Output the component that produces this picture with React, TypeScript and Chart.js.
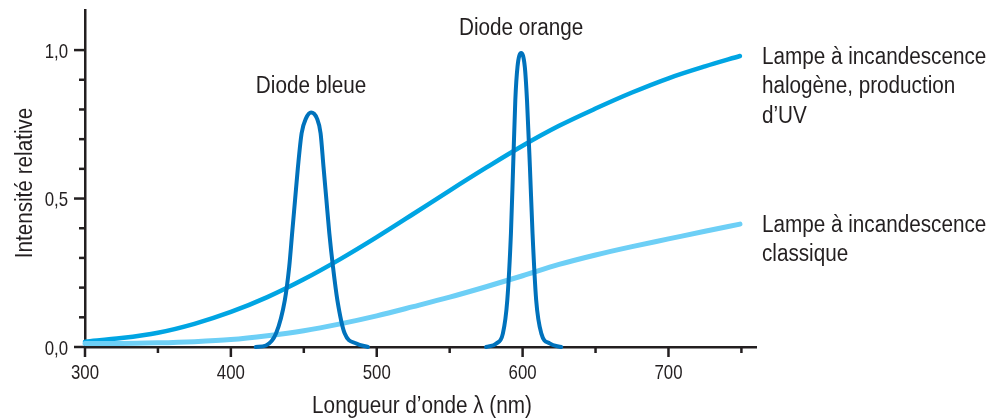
import React, { useEffect, useRef } from "react";
import { Chart, registerables } from "chart.js";

Chart.register(...registerables);

const FONT = "'Liberation Sans', Arial, sans-serif";
const TEXT = "#231f20";
const C_HALOGEN = "#00a5e3";
const C_CLASSIC = "#6dcff6";
const C_DIODE = "#0072bc";

// Data (wavelength in nm, relative intensity)
const halogenX = [300, 325, 350, 375, 400, 425, 450, 475, 500, 525, 550, 575, 600, 625, 650, 675, 700, 725, 749];
const halogenY = [0.018, 0.03, 0.048, 0.078, 0.118, 0.168, 0.228, 0.296, 0.37, 0.448, 0.527, 0.604, 0.678, 0.745, 0.803, 0.857, 0.905, 0.945, 0.98];

const classicX = [300, 325, 350, 375, 400, 425, 450, 475, 500, 525, 550, 575, 600, 625, 650, 675, 700, 725, 749];
const classicY = [0.012, 0.012, 0.014, 0.018, 0.025, 0.038, 0.055, 0.078, 0.105, 0.136, 0.168, 0.203, 0.24, 0.278, 0.31, 0.338, 0.364, 0.39, 0.414];

const blueX = [417, 424, 431, 437, 440, 442, 444, 446, 448.5, 451.5, 455, 459, 461.5, 463.5, 465.5, 467.5, 470, 473, 478, 486, 494];
const blueY = [0, 0.005, 0.046, 0.158, 0.27, 0.383, 0.495, 0.607, 0.72, 0.77, 0.79, 0.77, 0.72, 0.607, 0.495, 0.383, 0.27, 0.158, 0.046, 0.012, 0];

const orangeX = [575, 582, 586.5, 589.5, 592, 593.5, 595, 596.5, 599, 601.5, 603, 605, 606.8, 609.3, 612.8, 618.5, 626.5];
const orangeY = [0, 0.012, 0.046, 0.158, 0.383, 0.607, 0.832, 0.944, 0.99, 0.944, 0.832, 0.607, 0.383, 0.158, 0.046, 0.012, 0];

const xTickValues = [300, 350, 400, 450, 500, 550, 600, 650, 700, 750];
const xTickLabels = ["300", "", "400", "", "500", "", "600", "", "700", ""];
const yTickValues = [0, 0.1, 0.2, 0.3, 0.4, 0.5, 0.6, 0.7, 0.8, 0.9, 1.0];
const yTickLabels = ["0,0", "", "", "", "", "0,5", "", "", "", "", "1,0"];

const xTitle = "Longueur d’onde λ (nm)";
const yTitle = "Intensité relative";
const blueLabel = "Diode bleue";
const orangeLabel = "Diode orange";
const halogenLabel = ["Lampe à incandescence", "halogène, production", "d’UV"];
const classicLabel = ["Lampe à incandescence", "classique"];

const LABEL_SIZE = 23;
const LABEL_SX = 0.9;
const TICK_SIZE = 21;
const TICK_SX = 0.8;

const pts = (xs: number[], ys: number[]) => xs.map((x, i) => ({ x, y: ys[i] }));

function drawText(
  ctx: CanvasRenderingContext2D,
  text: string,
  x: number,
  y: number,
  size: number,
  sx: number,
  align: CanvasTextAlign,
  rot = 0
) {
  ctx.save();
  ctx.translate(x, y);
  if (rot) ctx.rotate(rot);
  ctx.scale(sx, 1);
  ctx.font = `${size}px ${FONT}`;
  ctx.fillStyle = TEXT;
  ctx.textAlign = align;
  ctx.textBaseline = "alphabetic";
  ctx.fillText(text, 0, 0);
  ctx.restore();
}

const decorPlugin = {
  id: "decor",
  beforeDatasetsDraw(chart: any) {
    const { ctx, scales } = chart;
    const xs = scales.x;
    const ys = scales.y;
    ctx.save();
    ctx.strokeStyle = TEXT;
    ctx.lineWidth = 2.5;
    ctx.lineCap = "butt";
    yTickValues.forEach((v, i) => {
      const py = ys.getPixelForValue(v);
      const len = yTickLabels[i] ? 11 : 6;
      ctx.beginPath();
      ctx.moveTo(xs.left - len, py);
      ctx.lineTo(xs.left, py);
      ctx.stroke();
    });
    xTickValues.forEach((v, i) => {
      const px = xs.getPixelForValue(v);
      const len = xTickLabels[i] ? 10 : 6;
      ctx.beginPath();
      ctx.moveTo(px, ys.bottom);
      ctx.lineTo(px, ys.bottom + len);
      ctx.stroke();
    });
    ctx.restore();
    // tick labels
    yTickValues.forEach((v, i) => {
      if (!yTickLabels[i]) return;
      drawText(ctx, yTickLabels[i], xs.left - 17, ys.getPixelForValue(v) + 7.5, TICK_SIZE, TICK_SX, "right");
    });
    xTickValues.forEach((v, i) => {
      if (!xTickLabels[i]) return;
      drawText(ctx, xTickLabels[i], xs.getPixelForValue(v), ys.bottom + 32, TICK_SIZE, TICK_SX, "center");
    });
    // axis titles
    drawText(ctx, xTitle, (xs.left + xs.right) / 2 + 1.5, ys.bottom + 66, LABEL_SIZE, LABEL_SX, "center");
    drawText(ctx, yTitle, 31.5, (ys.top + ys.bottom) / 2 + 4.5, LABEL_SIZE, LABEL_SX, "center", -Math.PI / 2);
  },
  afterDatasetsDraw(chart: any) {
    const { ctx, scales } = chart;
    const xs = scales.x;
    const ys = scales.y;
    // diode labels, centred above their peaks
    const bi = blueY.indexOf(Math.max(...blueY));
    drawText(ctx, blueLabel, xs.getPixelForValue(blueX[bi]), ys.getPixelForValue(blueY[bi]) - 19, LABEL_SIZE, LABEL_SX, "center");
    const oi = orangeY.indexOf(Math.max(...orangeY));
    drawText(ctx, orangeLabel, xs.getPixelForValue(orangeX[oi]), ys.getPixelForValue(orangeY[oi]) - 18, LABEL_SIZE, LABEL_SX, "center");
    // lamp labels, to the right of the curve ends
    const hx = xs.getPixelForValue(halogenX[halogenX.length - 1]) + 22;
    const hy = ys.getPixelForValue(halogenY[halogenY.length - 1]) + 8;
    halogenLabel.forEach((t, i) => drawText(ctx, t, hx, hy + i * 29.3, LABEL_SIZE, LABEL_SX, "left"));
    const cx = xs.getPixelForValue(classicX[classicX.length - 1]) + 22;
    const cy = ys.getPixelForValue(classicY[classicY.length - 1]) + 8;
    classicLabel.forEach((t, i) => drawText(ctx, t, cx, cy + i * 28.5, LABEL_SIZE, LABEL_SX, "left"));
  },
};

export default function App() {
  const ref = useRef<HTMLCanvasElement | null>(null);

  useEffect(() => {
    if (!ref.current) return;
    const lineDs = (label: string, xs: number[], ys: number[], color: string, width: number, order: number) => ({
      label,
      data: pts(xs, ys),
      borderColor: color,
      backgroundColor: color,
      borderWidth: width,
      pointRadius: 0,
      fill: false,
      cubicInterpolationMode: "monotone" as const,
      clip: false as const,
      order,
      borderCapStyle: "round" as const,
      borderJoinStyle: "round" as const,
    });
    const axisCommon = {
      type: "linear" as const,
      ticks: { display: false },
      grid: {
        display: true,
        drawOnChartArea: false,
        drawTicks: false,
        color: "rgba(0,0,0,0)",
        tickColor: "rgba(0,0,0,0)",
      },
      border: { display: true, color: TEXT, width: 2.5 },
      title: { display: false },
    };
    const chart = new Chart(ref.current, {
      type: "line",
      data: {
        datasets: [
          lineDs("Diode bleue", blueX, blueY, C_DIODE, 4, 0),
          lineDs("Diode orange", orangeX, orangeY, C_DIODE, 4, 1),
          lineDs("Lampe classique", classicX, classicY, C_CLASSIC, 5, 2),
          lineDs("Lampe halogène", halogenX, halogenY, C_HALOGEN, 4.5, 3),
        ],
      },
      options: {
        animation: false,
        responsive: true,
        maintainAspectRatio: false,
        layout: { padding: { top: 10, right: 235, bottom: 0, left: 0 } },
        plugins: { legend: { display: false }, tooltip: { enabled: false } },
        scales: {
          x: {
            ...axisCommon,
            min: 300,
            max: 760,
            afterBuildTicks: (s: any) => {
              s.ticks = xTickValues.map((v) => ({ value: v }));
            },
            afterFit: (s: any) => {
              s.height = 71;
            },
          },
          y: {
            ...axisCommon,
            min: 0,
            max: 1.135,
            afterBuildTicks: (s: any) => {
              s.ticks = yTickValues.map((v) => ({ value: v }));
            },
            afterFit: (s: any) => {
              s.width = 85;
            },
          },
        },
      },
      plugins: [decorPlugin],
    });
    return () => chart.destroy();
  }, []);

  return (
    <div style={{ position: "fixed", left: 0, top: 0, width: 991, height: 418, background: "#ffffff" }}>
      <canvas ref={ref} />
    </div>
  );
}
